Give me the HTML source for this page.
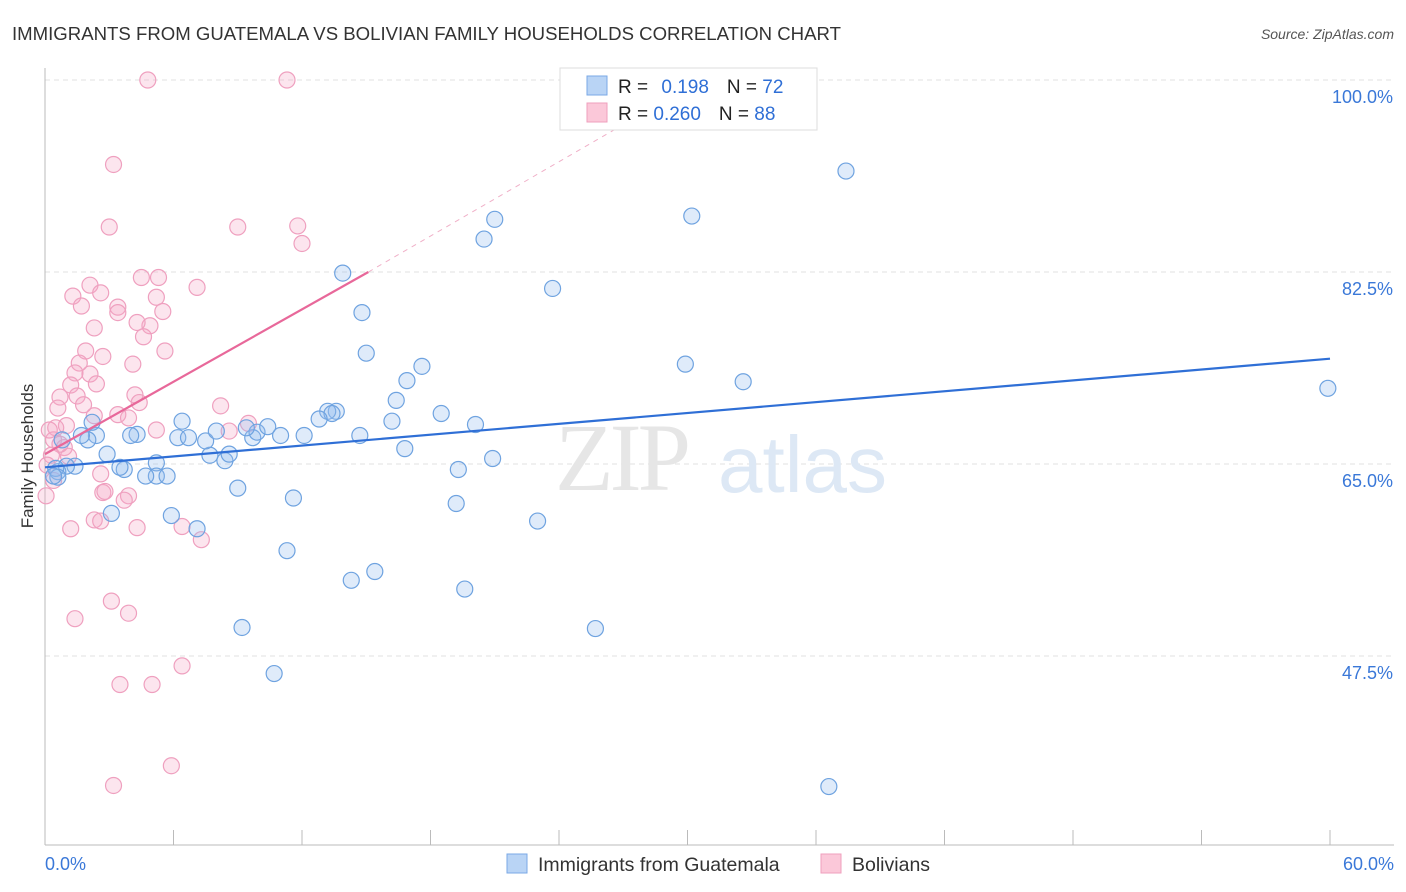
<!DOCTYPE html>
<html><head><meta charset="utf-8"><style>
body{margin:0;background:#fff;font-family:"Liberation Sans",sans-serif}
svg{display:block}
</style></head><body>
<svg id="c" width="1406" height="892">
<text x="12" y="40" font-size="18.6" fill="#333">IMMIGRANTS FROM GUATEMALA VS BOLIVIAN FAMILY HOUSEHOLDS CORRELATION CHART</text>
<text x="1394" y="39" font-size="14" fill="#555" font-style="italic" text-anchor="end">Source: ZipAtlas.com</text>
<text x="33" y="456" font-size="17" fill="#333" text-anchor="middle" transform="rotate(-90 33 456)">Family Households</text>
<g id="grid"></g>
<g><text x="555" y="490" font-size="96" fill="#e6e6e6" font-family="Liberation Serif" letter-spacing="-4">ZIP</text><text x="718" y="492" font-size="80" fill="#dde8f5">atlas</text></g>
<g id="pts"></g>
<g id="lines"></g>
<g>
<rect x="560" y="68" width="257" height="62" fill="#fff" stroke="#ddd"/>
<rect x="587" y="76" width="20" height="19" fill="#b9d4f5" stroke="#7aa8e6"/>
<rect x="587" y="103" width="20" height="19" fill="#fbc8d9" stroke="#ef9fbd"/>
<text x="618" y="93" font-size="19" fill="#222">R = <tspan fill="#2f6fd6" dx="8">0.198</tspan><tspan dx="18" fill="#222">N = </tspan><tspan fill="#2f6fd6">72</tspan></text>
<text x="618" y="120" font-size="19" fill="#222">R = <tspan fill="#2f6fd6">0.260</tspan><tspan dx="18" fill="#222">N = </tspan><tspan fill="#2f6fd6">88</tspan></text>
</g>
<g>
<rect x="507" y="854" width="20" height="19" fill="#b9d4f5" stroke="#7aa8e6"/>
<text x="538" y="871" font-size="19.5" fill="#333">Immigrants from Guatemala</text>
<rect x="821" y="854" width="20" height="19" fill="#fbc8d9" stroke="#ef9fbd"/>
<text x="852" y="871" font-size="19.5" fill="#333">Bolivians</text>
</g>
</svg>
<script>
const yTicks=[100,82.5,65,47.5];
const yTickLabels=["100.0%","82.5%","65.0%","47.5%"];
const xTickLabels=["0.0%","60.0%"];
const blueX=[37.4,30.2,21.0,20.5,23.7,13.9,14.8,15.0,17.6,16.9,16.4,29.9,32.6,59.9,18.5,20.1,16.2,13.6,13.2,13.4,12.8,14.7,16.8,19.3,20.9,19.2,23.0,19.6,15.4,14.3,11.3,11.6,25.7,9.2,10.7,36.6,9.0,8.4,8.6,7.7,7.5,8.0,6.4,6.2,6.7,4.3,4.0,9.7,9.9,10.4,11.0,12.1,9.4,5.2,5.2,5.7,4.7,3.7,3.5,3.1,5.9,7.1,2.9,2.4,2.0,2.2,1.7,1.4,1.0,0.6,0.5,0.8,0.6,0.4];
const blueY=[91.7,87.6,87.3,85.5,81.0,82.4,78.8,75.1,73.9,72.6,70.8,74.1,72.5,71.9,69.6,68.6,68.9,69.8,69.8,69.6,69.1,67.6,66.4,64.5,65.5,61.4,59.8,53.6,55.2,54.4,57.1,61.9,50.0,50.1,45.9,35.6,62.8,65.3,65.9,65.8,67.1,68.0,68.9,67.4,67.4,67.7,67.6,67.4,67.9,68.4,67.6,67.6,68.3,65.1,63.9,63.9,63.9,64.5,64.7,60.5,60.3,59.1,65.9,67.6,67.2,68.8,67.6,64.8,64.8,64.3,64.6,67.2,63.8,63.9];
const pinkX=[4.8,11.3,3.2,3.0,9.0,11.8,12.0,4.5,5.3,7.1,2.1,1.3,2.6,1.7,3.4,3.4,5.2,5.5,4.9,4.3,2.3,4.6,5.6,1.9,2.7,4.1,1.6,1.4,2.1,1.2,2.4,1.5,4.2,0.7,1.8,4.4,0.6,8.2,2.3,3.4,3.9,1.0,9.5,8.6,5.2,0.4,0.5,0.9,1.1,2.6,2.7,2.8,3.9,3.7,0.05,1.2,2.3,2.6,4.3,6.4,7.3,3.1,3.9,1.4,6.4,3.5,5.0,5.9,3.2,0.7,0.2,0.3,0.4,0.1];
const pinkY=[100,100,92.3,86.6,86.6,86.7,85.1,82.0,82.0,81.1,81.3,80.3,80.6,79.4,79.3,78.8,80.2,78.9,77.6,77.9,77.4,76.6,75.3,75.3,74.8,74.1,74.2,73.3,73.2,72.2,72.3,71.2,71.3,71.1,70.4,70.6,70.1,70.3,69.4,69.5,69.2,68.5,68.7,68.0,68.1,67.2,68.3,66.5,65.7,64.1,62.4,62.5,62.1,61.7,62.1,59.1,59.9,59.8,59.2,59.3,58.1,52.5,51.4,50.9,46.6,44.9,44.9,37.5,35.7,66.8,68.1,65.8,63.5,64.9];
const blueTrend=[[0,64.7],[60,74.6]];
const pinkTrend=[[0,65.9],[15.1,82.5]];
const pinkTrendExt=[[15.1,82.5],[27.5,96.5]];
const NS="http://www.w3.org/2000/svg";
const X=v=>45+v*(1285/60), Y=v=>80+(100-v)*(192/17.5);
function mk(t,a,p){const e=document.createElementNS(NS,t);for(const k in a)e.setAttribute(k,a[k]);p.appendChild(e);return e;}
const g=document.getElementById('grid');
yTicks.forEach((t,i)=>{
 const l=mk('line',{x1:45,x2:1394,y1:Y(t),y2:Y(t),stroke:'#e0e0e0','stroke-dasharray':'5,4'},g);
 
 
 const tx=mk('text',{x:1393,y:Y(t)+23,'font-size':18,fill:'#3a78d8','text-anchor':'end'},g);
 tx.textContent=yTickLabels[i];
 
 
});
const ax=mk('line',{x1:45,x2:1394,y1:845,y2:845,stroke:'#bbb'},g);


const ay=mk('line',{x1:45,x2:45,y1:68,y2:845,stroke:'#bbb'},g);


for(let i=0;i<=10;i++){const tk=mk('line',{x1:X(i*6),x2:X(i*6),y1:830,y2:845,stroke:'#bbb'},g);
 
 }
[[0,'start',45],[1,'end',1394]].forEach(([i,a,x])=>{const t=mk('text',{x:x,y:870,'font-size':18,fill:'#3a78d8','text-anchor':a},g);t.textContent=xTickLabels[i];
 
 });
const p=document.getElementById('pts');
pinkX.forEach((v,i)=>{const c=mk('circle',{cx:X(v),cy:Y(pinkY[i]),r:8,fill:'rgba(246,170,200,0.3)',stroke:'#efa0bf','stroke-width':1.2},p);
 
 });
blueX.forEach((v,i)=>{const c=mk('circle',{cx:X(v),cy:Y(blueY[i]),r:8,fill:'rgba(150,190,240,0.3)',stroke:'#6fa3e0','stroke-width':1.2},p);
 
 });
const L=document.getElementById('lines');
function ln(d,s,w,dash,n){const e=mk('line',{x1:X(d[0][0]),y1:Y(d[0][1]),x2:X(d[1][0]),y2:Y(d[1][1]),stroke:s,'stroke-width':w},L);if(dash)e.setAttribute('stroke-dasharray',dash);
 
 }
ln(blueTrend,'#2f6fd6',2.2,null,'guatemala-trend-line');
ln(pinkTrend,'#e8689a',2.2,null,'bolivians-trend-line');
ln(pinkTrendExt,'#f0b0c8',1,'5,5','bolivians-trend-extension');
</script>
</body></html>
